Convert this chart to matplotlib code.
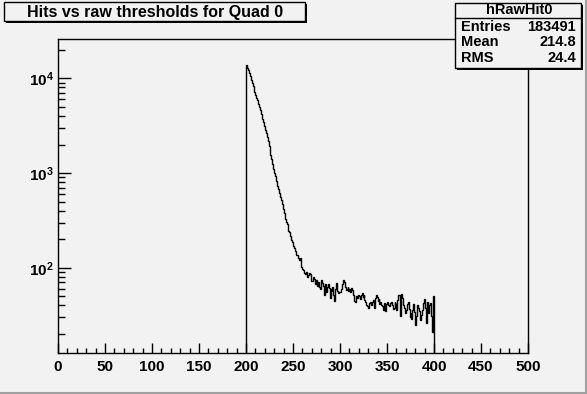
import matplotlib.pyplot as plt
import numpy as np
from matplotlib.patches import Rectangle
from matplotlib.ticker import LogLocator, NullFormatter, MultipleLocator

plt.rcParams['font.family'] = ['Liberation Sans', 'DejaVu Sans']
plt.rcParams['font.weight'] = 'bold'
plt.rcParams['mathtext.fontset'] = 'custom'
plt.rcParams['mathtext.bf'] = 'Liberation Sans:bold'
plt.rcParams['mathtext.rm'] = 'Liberation Sans:bold'

bg = '#f2f2f2'

# histogram hRawHit0: 1 unit bins from 200 to 400
first_bin = 200
counts = [
    13700, 12900, 12100, 11300, 10500, 9700, 8900, 8200, 7600, 7100,
    6600, 6200, 5850, 5400, 4950, 4600, 4200, 3750, 3450, 3150,
    2850, 2620, 2400, 2180, 1950, 1720, 1560, 1390, 1240, 1100,
    990, 930, 830, 730, 680, 610, 560, 520, 470, 420,
    375, 345, 330, 305, 290, 245, 240, 215, 195, 185,
    170, 163, 150, 138, 135, 128, 122, 126, 110, 102,
    98, 94, 88, 86, 90, 79, 84, 88, 86, 73,
    72, 80, 77, 68, 75, 73, 64, 70, 62, 60,
    74, 69, 64, 52, 68, 55, 62, 67, 61, 48,
    60, 57, 63, 52, 45, 59, 69, 57, 54, 56,
    55, 60, 68, 74, 71, 62, 58, 60, 62, 57,
    60, 56, 61, 58, 52, 45, 44, 50, 48, 51,
    50, 47, 52, 54, 49, 52, 46, 44, 40, 39,
    38, 42, 44, 40, 43, 46, 38, 48, 51, 49,
    45, 47, 41, 44, 40, 39, 36, 42, 35, 41,
    44, 40, 39, 42, 43, 40, 37, 38, 44, 41,
    36, 46, 51, 52, 31, 53, 48, 40, 38, 33,
    36, 41, 43, 37, 30, 33, 29, 36, 41, 34,
    25, 31, 40, 38, 35, 28, 32, 36, 42, 47,
    38, 29, 26, 44, 33, 40, 42, 31, 21, 50,
]
edges = np.arange(first_bin, first_bin + len(counts) + 1)

title = 'Hits vs raw thresholds for Quad 0'
hist_name = 'hRawHit0'
stats = [('Entries', '183491'), ('Mean', '214.8'), ('RMS', '24.4')]

W, H = 587, 394
fig = plt.figure(figsize=(W / 100, H / 100), dpi=100, facecolor=bg)


def fx(x):
    return x / W


def fy(y):
    return 1 - y / H


ax = fig.add_axes([fx(58), fy(353.3), fx(528) - fx(58), fy(39) - fy(353.3)])
ax.set_facecolor(bg)
ax.stairs(counts, edges, baseline=1, color='black', lw=1.0)
ax.set_yscale('log')
ax.set_xlim(0, 500)
ax.set_ylim(12.5, 26000)

ax.xaxis.set_major_locator(MultipleLocator(50))
ax.xaxis.set_minor_locator(MultipleLocator(10))
ax.yaxis.set_major_locator(LogLocator(base=10))
ax.yaxis.set_minor_locator(LogLocator(base=10, subs=np.arange(2, 10)))
ax.yaxis.set_minor_formatter(NullFormatter())
ax.set_yticks([100, 1000, 10000])
ax.set_yticklabels([r'$\mathbf{10^{2}}$', r'$\mathbf{10^{3}}$', r'$\mathbf{10^{4}}$'])

ax.tick_params(axis='both', which='both', direction='in', top=False, right=False,
               labelsize=11, width=1, color='black')
ax.tick_params(axis='x', which='major', length=7, pad=5)
ax.tick_params(axis='x', which='minor', length=3.5)
ax.tick_params(axis='y', which='major', length=9, pad=3)
ax.tick_params(axis='y', which='minor', length=5)
for lab in ax.get_xticklabels():
    lab.set_fontweight('bold')
for s in ax.spines.values():
    s.set_linewidth(1.0)

# canvas bevel
fig.add_artist(plt.Line2D([0, 1], [fy(392.5), fy(392.5)], color='#a0a0a0', lw=1.5))
fig.add_artist(plt.Line2D([fx(585.5), fx(585.5)], [0, 1], color='#a0a0a0', lw=1.5))

# title box
fig.add_artist(Rectangle((fx(6), fy(23)), fx(301), fy(2) - fy(21), facecolor='black', edgecolor='none'))
fig.add_artist(Rectangle((fx(4), fy(21)), fx(301), fy(2) - fy(21), facecolor=bg, edgecolor='black', lw=1))
fig.text(fx(155), fy(12), title, ha='center', va='center', fontsize=11.5, fontweight='bold')

# stats box
fig.add_artist(Rectangle((fx(457), fy(70)), fx(126), fy(3) - fy(68), facecolor='black', edgecolor='none'))
fig.add_artist(Rectangle((fx(455), fy(68)), fx(126), fy(3) - fy(68), facecolor=bg, edgecolor='black', lw=1))
fig.add_artist(plt.Line2D([fx(455), fx(581)], [fy(17.5), fy(17.5)], color='black', lw=1))
fig.text(fx(519), fy(10), hist_name, ha='center', va='center', fontsize=10.5, fontweight='bold')
for i, (k, v) in enumerate(stats):
    yy = fy(27 + i * 15.5)
    fig.text(fx(461), yy, k, ha='left', va='center', fontsize=10.5, fontweight='bold')
    fig.text(fx(576), yy, v, ha='right', va='center', fontsize=10.5, fontweight='bold')

fig.savefig('out.png', dpi=100, facecolor=bg)
